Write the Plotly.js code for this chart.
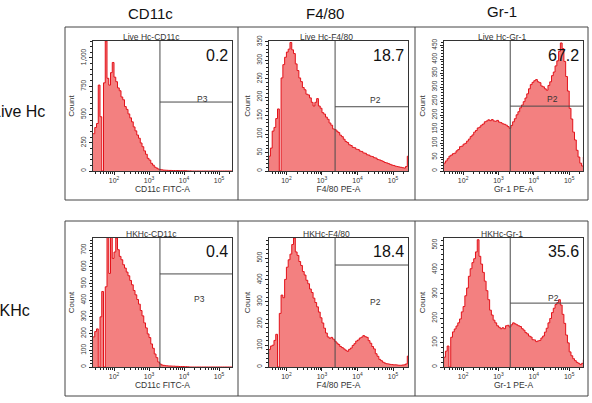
<!DOCTYPE html>
<html><head><meta charset="utf-8">
<script src="https://cdn.plot.ly/plotly-3.0.1.min.js"></script>
<style>html,body{margin:0;padding:0;background:#fff;}#chart{width:592px;height:403px;}</style>
</head><body><div id="chart"></div><script>
// ---------- DATA ----------
// histogram bin centres (log10 of fluorescence intensity)
const binLog = [
 1.40,1.45,1.50,1.55,1.60,1.65,1.70,1.75,1.80,1.85,
 1.90,1.95,2.00,2.05,2.10,2.15,2.20,2.25,2.30,2.35,
 2.40,2.45,2.50,2.55,2.60,2.65,2.70,2.75,2.80,2.85,
 2.90,2.95,3.00,3.05,3.10,3.15,3.20,3.25,3.30,3.35,
 3.40,3.45,3.50,3.55,3.60,3.65,3.70,3.75,3.80,3.85,
 3.90,3.95,4.00,4.05,4.10,4.15,4.20,4.25,4.30,4.35,
 4.40,4.45,4.50,4.55,4.60,4.65,4.70,4.75,4.80,4.85,
 4.90,4.95,5.00,5.05,5.10,5.15,5.20,5.25,5.30,5.35,
 5.40,5.45];
const cd11cLive = [
 330,385,420,760,480,0,780,1150,820,760,
 870,960,830,790,735,710,655,630,570,545,
 505,470,435,390,355,318,290,248,215,178,
 148,112,96,68,52,34,26,17,14,10,
 8,7,6,5,5,4,4,3,4,3,
 3,2,3,2,1,1,0,0,0,0,
 0,0,0,0,0,0,0,0,0,0,
 0,0,0,0,0,0,0,0,0,0,
 0,0];
const f480Live = [
 0,0,40,62,108,118,142,168,0,252,
 288,308,322,330,348,328,318,290,272,252,
 242,226,220,208,206,198,186,176,186,196,
 176,170,158,154,146,140,130,124,114,112,
 108,104,97,93,86,80,77,71,69,64,
 63,59,58,54,53,49,48,44,43,40,
 39,36,35,31,30,28,26,23,22,20,
 18,16,15,13,12,11,10,9,8,12,
 40,45];
const gr1Live = [
 20,28,36,44,53,57,62,64,72,77,
 87,89,96,99,107,114,123,129,139,145,
 154,157,164,168,176,179,183,180,184,179,
 178,181,175,173,169,167,164,159,153,163,
 176,187,201,212,226,236,248,261,276,294,
 309,317,323,327,319,316,304,301,294,289,
 306,319,341,354,376,394,428,458,438,392,
 338,286,224,186,139,111,74,50,28,18,
 50,50];
const cd11cHK = [
 180,212,228,0,300,452,0,480,780,560,
 782,650,688,772,702,662,642,612,592,568,
 546,518,492,458,432,404,376,338,306,264,
 234,198,176,138,112,78,56,30,18,12,
 10,8,7,6,6,5,5,4,4,3,
 3,3,2,2,1,0,0,0,0,0,
 0,0,0,0,0,0,0,0,0,0,
 0,0,0,0,0,0,0,0,0,0,
 0,0];
const f480HK = [
 0,0,80,96,100,122,150,0,246,330,
 318,402,458,492,518,562,592,528,512,484,
 466,438,422,398,382,358,342,316,296,276,
 252,226,202,178,156,138,132,136,128,118,
 110,103,94,89,83,77,72,81,87,99,
 107,119,124,133,137,144,139,136,121,109,
 94,83,61,49,35,29,22,18,15,14,
 12,11,10,10,9,8,8,9,10,14,
 50,50];
const gr1HK = [
 0,40,65,86,0,122,144,156,168,181,
 197,226,248,292,324,372,403,428,444,472,
 522,454,422,388,352,313,276,233,213,192,
 181,169,163,157,161,157,169,171,164,173,
 181,177,173,169,166,157,151,141,136,127,
 123,112,111,104,107,109,119,127,143,159,
 181,199,223,241,256,264,276,254,216,179,
 131,99,62,46,34,26,19,15,10,15,
 30,30];

const columnHeaders = ['CD11c','F4/80','Gr-1'];
const rowLabels = ['Live Hc','HKHc'];
const panelTitles = ['Live Hc-CD11c','Live Hc-F4/80','Live Hc-Gr-1','HKHc-CD11c','HKHc-F4/80','HKHc-Gr-1'];
const xTitles = ['CD11c FITC-A','F4/80 PE-A','Gr-1 PE-A','CD11c FITC-A','F4/80 PE-A','Gr-1 PE-A'];
const gatePercents = ['0.2','18.7','67.2','0.4','18.4','35.6'];
const gateNames = ['P3','P2','P2','P3','P2','P2'];
const gateXValues = [2050,2340,2150,2050,2340,2150];
const gateYValues = [610,174,232,557,468,262];
const yMaxValues = [1150,352,465,772,592,529];
const yTickSteps = [250,50,50,100,100,100];
const xLogRanges = [[1.40,5.37],[1.51,5.42],[1.46,5.39],[1.40,5.37],[1.51,5.42],[1.46,5.39]];
const xTickVals = [100,1000,10000,100000];
const xTickText = ['10<sup>2</sup>','10<sup>3</sup>','10<sup>4</sup>','10<sup>5</sup>'];
const series = [cd11cLive,f480Live,gr1Live,cd11cHK,f480HK,gr1HK];

// ---------- LAYOUT ----------
const W = 592, H = 403;
const px = x => x / W, py = y => 1 - y / H;
const FONT = 'Arial, "Liberation Sans", sans-serif';
const colPx = [[93,232],[269,408],[444,583]];
const rowPx = [[41,171],[238,367]];
const boxRows = [[27,200],[221,396]];
const boxX = [65,588];
const dividers = [238,415];
const boxCentres = [151.5,326.5,501.5];
const titleY = [37,234];
const pctY = [55,251];
const gateLabelPx = [[202,99],[375,100],[552,99],[199,299],[375,302],[553,298]];

const minorX = [];
for (let e = 1; e <= 5; e++) for (let m = 2; m <= 9; m++) minorX.push(m * Math.pow(10, e));

const traces = [];
const layout = {
  width: W, height: H, margin: {l:0,r:0,t:0,b:0},
  paper_bgcolor: '#fff', plot_bgcolor: '#fff',
  showlegend: false, font: {family: FONT, color: '#333'},
  shapes: [], annotations: []
};

for (let i = 0; i < 6; i++) {
  const r = Math.floor(i / 3), c = i % 3, k = i + 1;
  const xs = k > 1 ? 'x' + k : 'x', ys = k > 1 ? 'y' + k : 'y';
  traces.push({
    type: 'scatter', mode: 'lines', xaxis: xs, yaxis: ys,
    x: binLog.map(v => Math.pow(10, v)), y: series[i],
    line: {color: '#e3121a', width: 1, shape: 'hv'}, fill: 'tozeroy', fillcolor: '#f38080',
    hoverinfo: 'skip'
  });
  layout['xaxis' + (k > 1 ? k : '')] = {
    type: 'log', anchor: ys, domain: [px(colPx[c][0]), px(colPx[c][1])],
    range: xLogRanges[i], tickvals: xTickVals, ticktext: xTickText,
    ticks: 'outside', ticklen: 3, tickcolor: '#222', tickwidth: 1,
    tickfont: {size: 7, color: '#333', family: FONT},
    minor: {tickvals: minorX, ticks: 'outside', ticklen: 2, tickcolor: '#222', showgrid: false},
    showline: true, linecolor: '#333', linewidth: 1, mirror: true,
    showgrid: false, zeroline: false, fixedrange: true,
    title: {text: xTitles[i], font: {size: 8.5, color: '#333', family: FONT}, standoff: 2}
  };
  layout['yaxis' + (k > 1 ? k : '')] = {
    anchor: xs, domain: [py(rowPx[r][1]), py(rowPx[r][0])],
    range: [0, yMaxValues[i]], tick0: 0, dtick: yTickSteps[i], tickformat: ',d',
    tickangle: -90, ticks: 'outside', ticklen: 3, tickcolor: '#222',
    tickfont: {size: 6.5, color: '#333', family: FONT},
    minor: {dtick: yTickSteps[i] / 5, ticks: 'outside', ticklen: 2, tickcolor: '#222', showgrid: false},
    showline: true, linecolor: '#333', linewidth: 1, mirror: true,
    showgrid: false, zeroline: false, fixedrange: true,
    title: {text: 'Count', font: {size: 8, color: '#333', family: FONT}, standoff: 4}
  };
  const gx = gateXValues[i], xEnd = Math.pow(10, xLogRanges[i][1]);
  layout.shapes.push({type: 'line', xref: xs, yref: ys, x0: gx, x1: gx, y0: 0, y1: yMaxValues[i],
    line: {color: '#4a4a4a', width: 1}});
  layout.shapes.push({type: 'line', xref: xs, yref: ys, x0: gx, x1: xEnd, y0: gateYValues[i], y1: gateYValues[i],
    line: {color: '#4a4a4a', width: 1}});
  layout.annotations.push({xref: 'paper', yref: 'paper', x: px(boxCentres[c]), y: py(titleY[r]),
    text: panelTitles[i], showarrow: false, xanchor: 'center', yanchor: 'middle',
    font: {size: 8.5, color: '#333', family: FONT}});
  layout.annotations.push({xref: 'paper', yref: 'paper', x: px(colPx[c][1] - 2), y: py(pctY[r]),
    text: gatePercents[i], showarrow: false, xanchor: 'right', yanchor: 'middle',
    font: {size: 16, color: '#111', family: FONT}});
  layout.annotations.push({xref: 'paper', yref: 'paper', x: px(gateLabelPx[i][0]), y: py(gateLabelPx[i][1]),
    text: gateNames[i], showarrow: false, xanchor: 'center', yanchor: 'middle',
    font: {size: 8.5, color: '#333', family: FONT}});
}

// panel boxes
boxRows.forEach(rw => {
  layout.shapes.push({type: 'rect', xref: 'paper', yref: 'paper', x0: px(boxX[0]), x1: px(boxX[1]),
    y0: py(rw[1]), y1: py(rw[0]), line: {color: '#444', width: 1}});
  dividers.forEach(d => layout.shapes.push({type: 'line', xref: 'paper', yref: 'paper',
    x0: px(d), x1: px(d), y0: py(rw[1]), y1: py(rw[0]), line: {color: '#444', width: 1}}));
});

// column headers and row labels (the row labels run past the left edge, as in the original figure)
const headerPx = [[150,14],[325,14],[502,12]];
columnHeaders.forEach((t, c) => layout.annotations.push({xref: 'paper', yref: 'paper',
  x: px(headerPx[c][0]), y: py(headerPx[c][1]), text: t, showarrow: false,
  xanchor: 'center', yanchor: 'middle', font: {size: 15, color: '#111', family: FONT}}));
const rowLabelPx = [[47,112],[32,310]];
rowLabels.forEach((t, r) => layout.annotations.push({xref: 'paper', yref: 'paper',
  x: px(rowLabelPx[r][0]), y: py(rowLabelPx[r][1]), text: t, showarrow: false,
  xanchor: 'right', yanchor: 'middle', font: {size: 16, color: '#111', family: FONT}}));

Plotly.newPlot('chart', traces, layout, {displayModeBar: false, staticPlot: true});
</script></body></html>
